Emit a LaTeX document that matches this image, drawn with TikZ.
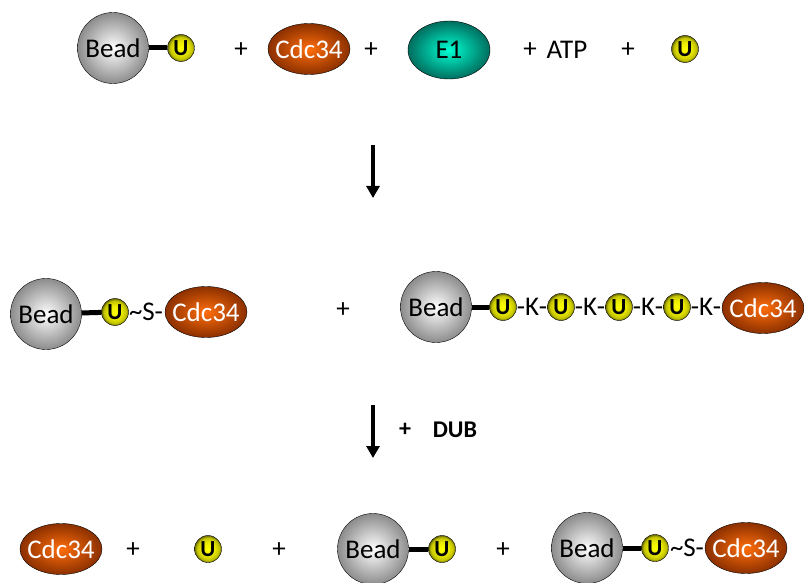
\documentclass[tikz,border=0pt]{standalone}
\usepackage{fontspec}
\setmainfont{Carlito}
\usetikzlibrary{shapes.geometric,arrows.meta}

\definecolor{grisborde}{RGB}{140,140,140}
\definecolor{naranja}{RGB}{255,110,10}
\definecolor{marron}{RGB}{140,48,0}
\definecolor{turquesa}{RGB}{0,255,210}
\definecolor{verdeosc}{RGB}{0,110,95}
\definecolor{amarillo}{RGB}{255,255,0}
\definecolor{oliva}{RGB}{100,100,0}

% sombreado de la ubiquitina: amarillo casi hasta el borde
\pgfdeclareradialshading{ubisombra}{\pgfpoint{0bp}{0bp}}{%
  color(0bp)=(amarillo); color(12bp)=(amarillo!92!black);
  color(21bp)=(amarillo!60!oliva); color(25bp)=(oliva); color(50bp)=(oliva)}

\tikzset{
  texto/.style={font=\fontsize{27}{27}\selectfont, inner sep=0pt},
  bola/.style={circle, draw=black, shading=radial, inner color=white, outer color=grisborde,
    minimum size=71pt, inner sep=0pt, font=\fontsize{27}{27}\selectfont},
  cdc/.style={ellipse, draw=black, shading=radial, inner color=naranja, outer color=marron,
    minimum width=82pt, minimum height=51pt, inner xsep=-5pt, inner ysep=0pt, text=white,
    font=\fontsize{27}{27}\selectfont},
  enzima/.style={ellipse, draw=black, shading=radial, inner color=turquesa, outer color=verdeosc,
    minimum width=82pt, minimum height=58pt, inner sep=0pt, font=\fontsize{27}{27}\selectfont},
  ubi/.style={circle, draw=black, shading=ubisombra,
    minimum size=27pt, inner sep=0pt, font=\fontsize{23}{23}\selectfont\bfseries},
  enlace/.style={line width=5pt},
  flecha/.style={line width=4pt, -{Triangle[width=13pt,length=12pt]}}
}

\begin{document}
\begin{tikzpicture}[x=1pt,y=-1pt]
  \useasboundingbox (0,0) rectangle (804,583);

  % Fila de arriba: reactivos
  \node[bola] (bead1) at (113,48) {Bead};
  \node[ubi] (u1) at (181,48) {U};
  \draw[enlace] (bead1) -- (u1);
  \node[texto] (mas1) at (241,50) {+};
  \node[cdc] (cdc1) at (309,49) {Cdc34};
  \node[texto] (mas2) at (371,50) {+};
  \node[enzima] (e1) at (449,50) {E1};
  \node[texto] (mas3) at (530,50) {+};
  \node[texto] (atp) at (567,50) {ATP};
  \node[texto] (mas4) at (628,50) {+};
  \node[ubi] (u2) at (685,49) {U};

  % Primera flecha
  \coordinate (f1a) at (373,145);
  \coordinate (f1b) at (373,198);
  \draw[flecha] (f1a) -- (f1b);

  % Fila del medio: tioester a la izquierda
  \node[bola] (bead2) at (46,314) {Bead};
  \node[ubi] (u3) at (115,312) {U};
  \draw[enlace] (bead2) -- (u3);
  \node[texto] (s1) at (146,312) {\textasciitilde S-};
  \node[cdc] (cdc2) at (206,312) {Cdc34};
  \node[texto] (mas5) at (343,310) {+};

  % Cadena de ubiquitinas unidas por lisinas
  \node[bola] (bead3) at (436,307) {Bead};
  \node[ubi] (c1) at (503,307) {U};
  \node[ubi] (c2) at (561,307) {U};
  \node[ubi] (c3) at (619,307) {U};
  \node[ubi] (c4) at (677,307) {U};
  \draw[enlace] (bead3) -- (c1);
  \node[texto] (k1) at (532,307) {-K-};
  \node[texto] (k2) at (590,307) {-K-};
  \node[texto] (k3) at (648,307) {-K-};
  \node[texto] (k4) at (706,307) {-K-};
  \node[cdc] (cdc3) at (763,308) {Cdc34};

  % Segunda flecha con DUB
  \coordinate (f2a) at (373,405);
  \coordinate (f2b) at (373,458);
  \draw[flecha] (f2a) -- (f2b);
  \node[texto, font=\fontsize{24}{24}\selectfont\bfseries] (mas6) at (405,430) {+};
  \node[texto, font=\fontsize{24}{24}\selectfont\bfseries] (dub) at (455,430) {DUB};

  % Fila de abajo: productos
  \node[cdc] (cdc4) at (61,549) {Cdc34};
  \node[texto] (mas7) at (133,550) {+};
  \node[ubi] (u4) at (208,549) {U};
  \node[texto] (mas8) at (279,550) {+};
  \node[bola] (bead4) at (373,549) {Bead};
  \node[ubi] (u5) at (442,549) {U};
  \draw[enlace] (bead4) -- (u5);
  \node[texto] (mas9) at (503,550) {+};
  \node[bola] (bead5) at (587,548) {Bead};
  \node[ubi] (u6) at (655,548) {U};
  \draw[enlace] (bead5) -- (u6);
  \node[texto] (s2) at (687,548) {\textasciitilde S-};
  \node[cdc] (cdc5) at (746,548) {Cdc34};
\end{tikzpicture}
\end{document}
